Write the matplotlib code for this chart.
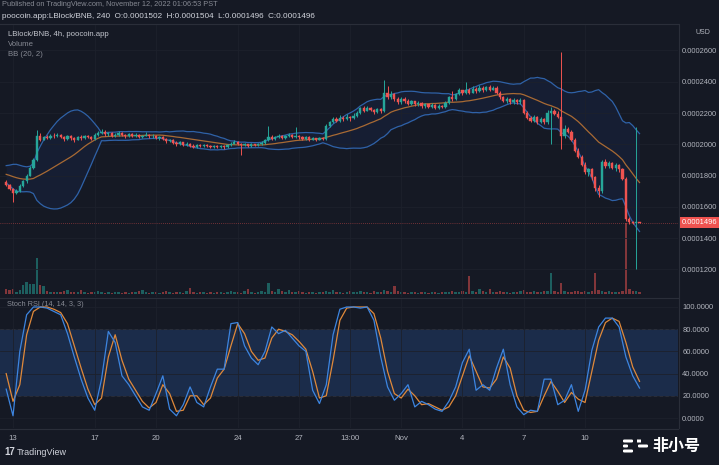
import numpy as np
import pandas as pd
import matplotlib
matplotlib.use('Agg')
import matplotlib.pyplot as plt
from matplotlib.patches import FancyBboxPatch

# ── Data (prices in units of 0.0000001 BNB) ───────────────────────────────────
UNIT = 1e-7

opens = [1760, 1740, 1715, 1690, 1700, 1735, 1765, 1800, 1850, 1900,
         2050, 2030, 2045, 2040, 2055, 2050, 2060, 2045, 2035, 2050,
         2040, 2030, 2045, 2040, 2050, 2045, 2035, 2060, 2070, 2080,
         2065, 2070, 2055, 2060, 2075, 2060, 2050, 2065, 2055, 2060,
         2045, 2055, 2062, 2050, 2055, 2040, 2048, 2035, 2020, 2028,
         2010, 2000, 2012, 1998, 2005, 1992, 1985, 1995, 1988, 1998,
         1990, 1982, 1992, 1985, 1990, 1982, 1995, 2005, 2015, 2005,
         1995, 2002, 1992, 2000, 1995, 2000, 2010, 2025, 2045, 2035,
         2045, 2055, 2040, 2050, 2060, 2048, 2055, 2045, 2035, 2045,
         2030, 2038, 2030, 2040, 2035, 2120, 2140, 2160, 2150, 2170,
         2160, 2175, 2165, 2180, 2200, 2230, 2215, 2235, 2220, 2205,
         2225, 2210, 2330, 2300, 2320, 2290, 2270, 2290, 2280, 2260,
         2275, 2255, 2265, 2245, 2255, 2240, 2250, 2235, 2245, 2240,
         2265, 2300, 2290, 2320, 2345, 2325, 2350, 2330, 2355, 2340,
         2360, 2345, 2365, 2350, 2360, 2330, 2300, 2280, 2290, 2270,
         2285, 2270, 2285, 2200, 2170, 2150, 2175, 2140, 2160, 2140,
         2200, 2215, 2195, 2175, 2050, 2100, 2080, 2030, 1960, 1920,
         1870, 1820, 1840, 1790, 1720, 1700, 1890, 1860, 1880, 1850,
         1870, 1840, 1780, 1520, 1505, 1498, 1502]
highs = [1770, 1748, 1720, 1712, 1745, 1775, 1810, 1860, 1915, 2090,
         2070, 2055, 2060, 2065, 2070, 2072, 2068, 2055, 2060, 2062,
         2048, 2055, 2058, 2062, 2060, 2052, 2070, 2085, 2095, 2090,
         2080, 2078, 2072, 2085, 2080, 2068, 2075, 2072, 2070, 2065,
         2062, 2080, 2068, 2065, 2060, 2055, 2052, 2040, 2035, 2032,
         2018, 2020, 2015, 2012, 2010, 2000, 2002, 2000, 2005, 2002,
         1995, 1998, 1998, 1996, 1995, 2000, 2012, 2025, 2020, 2010,
         2008, 2005, 2006, 2005, 2008, 2018, 2035, 2120, 2060, 2055,
         2065, 2060, 2058, 2070, 2065, 2110, 2060, 2052, 2050, 2050,
         2045, 2042, 2048, 2045, 2130, 2150, 2172, 2175, 2190, 2180,
         2195, 2180, 2200, 2210, 2240, 2245, 2245, 2240, 2228, 2235,
         2230, 2410, 2370, 2340, 2330, 2300, 2300, 2305, 2290, 2285,
         2280, 2275, 2270, 2265, 2260, 2262, 2255, 2255, 2252, 2275,
         2310, 2340, 2330, 2360, 2350, 2400, 2360, 2370, 2365, 2380,
         2370, 2375, 2380, 2372, 2370, 2340, 2310, 2300, 2295, 2295,
         2290, 2295, 2290, 2210, 2180, 2185, 2180, 2175, 2165, 2220,
         2240, 2225, 2210, 2590, 2125, 2110, 2090, 2040, 1975, 1930,
         1885, 1850, 1850, 1800, 1740, 1900, 1905, 1895, 1890, 1880,
         1875, 1850, 1790, 1535, 1510, 2110, 1504]
lows = [1735, 1705, 1630, 1680, 1695, 1730, 1755, 1795, 1840, 1895,
        2020, 2025, 2035, 2035, 2040, 2045, 2038, 2020, 2030, 2025,
        2015, 2025, 2030, 2035, 2038, 2028, 2030, 2055, 2065, 2055,
        2055, 2045, 2048, 2050, 2050, 2040, 2045, 2045, 2048, 2038,
        2040, 2050, 2042, 2040, 2032, 2030, 2025, 2010, 2012, 2000,
        1990, 1995, 1988, 1990, 1985, 1975, 1978, 1980, 1982, 1982,
        1975, 1976, 1978, 1978, 1970, 1975, 1990, 2000, 1998, 1930,
        1990, 1985, 1985, 1988, 1990, 1995, 2005, 2020, 2028, 2030,
        2038, 2032, 2035, 2045, 2040, 2042, 2035, 2025, 2028, 2022,
        2025, 2020, 2025, 2028, 2030, 2110, 2135, 2140, 2145, 2150,
        2155, 2150, 2160, 2175, 2195, 2205, 2210, 2210, 2195, 2200,
        2198, 2205, 2290, 2290, 2280, 2260, 2260, 2265, 2250, 2250,
        2245, 2245, 2235, 2235, 2230, 2230, 2225, 2228, 2230, 2235,
        2260, 2280, 2285, 2315, 2315, 2320, 2320, 2325, 2330, 2335,
        2335, 2340, 2340, 2345, 2320, 2290, 2270, 2265, 2260, 2260,
        2255, 2260, 2195, 2160, 2140, 2145, 2130, 2135, 2130, 2130,
        2000, 2185, 2165, 1970, 2040, 2070, 2020, 1950, 1910, 1860,
        1810, 1800, 1775, 1700, 1660, 1690, 1850, 1850, 1840, 1830,
        1820, 1770, 1510, 1490, 1490, 1200, 1496]
closes = [1740, 1715, 1690, 1700, 1735, 1765, 1800, 1850, 1900, 2050,
          2030, 2045, 2040, 2055, 2050, 2060, 2045, 2035, 2050, 2040,
          2030, 2045, 2040, 2050, 2045, 2035, 2060, 2070, 2080, 2065,
          2070, 2055, 2060, 2075, 2060, 2050, 2065, 2055, 2060, 2045,
          2055, 2062, 2050, 2055, 2040, 2048, 2035, 2020, 2028, 2010,
          2000, 2012, 1998, 2005, 1992, 1985, 1995, 1988, 1998, 1990,
          1982, 1992, 1985, 1990, 1982, 1995, 2005, 2015, 2005, 1995,
          2002, 1992, 2000, 1995, 2000, 2010, 2025, 2045, 2035, 2045,
          2055, 2040, 2050, 2060, 2048, 2055, 2045, 2035, 2045, 2030,
          2038, 2030, 2040, 2035, 2120, 2140, 2160, 2150, 2170, 2160,
          2175, 2165, 2180, 2200, 2230, 2215, 2235, 2220, 2205, 2225,
          2210, 2330, 2300, 2320, 2290, 2270, 2290, 2280, 2260, 2275,
          2255, 2265, 2245, 2255, 2240, 2250, 2235, 2245, 2240, 2265,
          2300, 2290, 2320, 2345, 2325, 2350, 2330, 2355, 2340, 2360,
          2345, 2365, 2350, 2360, 2330, 2300, 2280, 2290, 2270, 2285,
          2270, 2285, 2200, 2170, 2150, 2175, 2140, 2160, 2140, 2200,
          2215, 2195, 2175, 2050, 2100, 2080, 2030, 1960, 1920, 1870,
          1820, 1840, 1790, 1720, 1700, 1890, 1860, 1880, 1850, 1870,
          1840, 1780, 1520, 1505, 1498, 1502, 1496]
# closes before the first visible candle, only used to seed the BB(20)
pre_closes = [1850, 1845, 1838, 1842, 1830, 1825, 1832, 1820, 1812, 1818,
              1805, 1800, 1795, 1802, 1790, 1785, 1778, 1782, 1770]
volume = [5, 4, 5, 2, 4, 9, 12, 10, 10, 36,
          9, 8, 3, 2, 2, 2, 2, 3, 4, 2,
          2, 2, 4, 2, 1, 2, 2, 3, 2, 1,
          2, 1, 2, 2, 1, 2, 1, 2, 2, 3,
          4, 2, 1, 2, 2, 1, 2, 3, 2, 1,
          2, 2, 1, 3, 6, 2, 1, 2, 2, 1,
          2, 1, 2, 2, 1, 2, 3, 2, 2, 1,
          3, 5, 2, 1, 2, 3, 2, 11, 3, 2,
          5, 3, 2, 4, 2, 2, 3, 2, 1, 2,
          2, 1, 2, 2, 3, 2, 4, 2, 2, 1,
          2, 3, 2, 2, 3, 2, 2, 1, 3, 2,
          2, 4, 3, 2, 8, 3, 2, 2, 1, 2,
          2, 1, 2, 2, 1, 2, 2, 1, 2, 2,
          2, 3, 2, 2, 3, 2, 18, 3, 2, 5,
          3, 2, 5, 2, 2, 3, 2, 2, 1, 2,
          2, 3, 4, 2, 2, 3, 2, 2, 3, 3,
          21, 3, 2, 11, 3, 2, 2, 3, 3, 2,
          3, 2, 3, 21, 4, 3, 2, 3, 2, 2,
          2, 3, 71, 5, 3, 3, 2]

# Stoch RSI (14, 14, 3, 3), one reading every STOCH_STEP candles
STOCH_STEP = 2
stoch_k = [26, 2, 60, 93, 100, 100, 99, 96, 93, 76,
           55, 35, 18, 7, 35, 78, 68, 38, 30, 20,
           10, 7, 22, 38, 8, 2, 12, 28, 14, 10,
           28, 44, 44, 85, 86, 65, 54, 48, 60, 82,
           76, 79, 72, 65, 60, 25, 13, 30, 75, 98,
           100, 100, 99, 100, 88, 55, 28, 16, 22, 30,
           10, 15, 12, 8, 6, 15, 28, 50, 62, 25,
           30, 25, 45, 62, 30, 10, 3, 7, 6, 35,
           35, 12, 16, 30, 6, 25, 61, 82, 90, 90,
           82, 55, 38, 27]
stoch_d = [40, 15, 30, 75, 96, 100, 100, 98, 95, 85,
           65, 45, 26, 12, 18, 55, 75, 52, 35, 25,
           15, 9, 14, 30, 22, 6, 7, 20, 20, 12,
           18, 36, 44, 65, 85, 76, 60, 52, 54, 72,
           80, 78, 75, 69, 62, 42, 18, 20, 52, 88,
           99, 100, 100, 100, 94, 72, 42, 22, 18, 26,
           20, 12, 13, 10, 7, 10, 20, 38, 56, 42,
           28, 27, 35, 55, 45, 20, 7, 5, 6, 20,
           33, 24, 14, 23, 17, 14, 42, 70, 86, 90,
           87, 68, 46, 33]

last_price = 0.0001496
price_ticks = [0.00012, 0.00014, 0.00016, 0.00018, 0.00020, 0.00022, 0.00024, 0.00026]
stoch_ticks = [0, 20, 40, 60, 80, 100]
# candle index of each date label (candles are 4h)
date_pos = [2, 26, 44, 68, 86, 101, 116, 134, 152, 170]
date_labels = ['13', '17', '20', '24', '27', '13:00', 'Nov', '4', '7', '10']

# ── Style ─────────────────────────────────────────────────────────────────────
PALETTE = {
    'bg':     '#151924',
    'grid':   '#1d212c',
    'sep':    '#2a2e39',
    'text':   '#b2b5be',
    'dim':    '#868993',
    'up':     '#26a69a',
    'down':   '#ef5350',
    'bb':     '#2f62a8',
    'basis':  '#a86a34',
    'k':      '#3d85e0',
    'd':      '#e0893a',
    'band':   '#1b2c4a',
}
plt.rcParams['font.family'] = ['Liberation Sans', 'DejaVu Sans']
TS = 5.4   # small UI text size

W, H = 719, 465


def box(x0, y0, x1, y1):
    return [x0 / W, 1 - y1 / H, (x1 - x0) / W, (y1 - y0) / H]


def fx(x):
    return x / W


def fy(y):
    return 1 - y / H


fig = plt.figure(figsize=(W / 100, H / 100), dpi=100)
fig.patch.set_facecolor(PALETTE['bg'])

axv = fig.add_axes(box(0, 180, 678, 294))
ax = fig.add_axes(box(0, 24, 678, 297), sharex=axv)
axs = fig.add_axes(box(0, 298, 678, 428), sharex=axv)

n = len(closes)
x = np.arange(n)
o = np.array(opens) * UNIT
h = np.array(highs) * UNIT
l = np.array(lows) * UNIT
c = np.array(closes) * UNIT
up = c >= o
colors = np.where(up, PALETTE['up'], PALETTE['down'])

# ── Volume ────────────────────────────────────────────────────────────────────
axv.bar(x, volume, width=0.7, color=colors, alpha=0.5, edgecolor='none')
axv.set_ylim(0, 114)
axv.set_facecolor('none')
axv.axis('off')

# ── Bollinger bands ───────────────────────────────────────────────────────────
all_c = pd.Series(pre_closes + closes, dtype=float) * UNIT
basis = all_c.rolling(20).mean().to_numpy()[-n:]
dev = all_c.rolling(20).std(ddof=0).to_numpy()[-n:]
upper = basis + 2 * dev
lower = basis - 2 * dev

ax.set_facecolor('none')
ax.fill_between(x, lower, upper, color='#2962ff', alpha=0.07, lw=0, zorder=1)
ax.plot(x, upper, color=PALETTE['bb'], lw=0.9, zorder=2)
ax.plot(x, lower, color=PALETTE['bb'], lw=0.9, zorder=2)
ax.plot(x, basis, color=PALETTE['basis'], lw=0.9, zorder=2)

# ── Candles ───────────────────────────────────────────────────────────────────
ax.vlines(x, l, h, colors=colors, lw=0.7, zorder=3)
body_lo = np.minimum(o, c)
body_h = np.maximum(np.abs(c - o), 0.4 * UNIT)
ax.bar(x, body_h, bottom=body_lo, width=0.66, color=colors,
       edgecolor=colors, linewidth=0.3, zorder=4)

ax.axhline(last_price, color=PALETTE['down'], lw=0.5, ls=(0, (1, 2)), alpha=0.8, zorder=2)

ax.set_ylim(1.024e-4, 2.769e-4)
ax.set_xlim(-1.82, 197.3)
ax.set_yticks(price_ticks)
ax.yaxis.tick_right()
ax.set_yticklabels([f'{v:.7f}' for v in price_ticks])
ax.tick_params(axis='y', length=0, pad=3, labelsize=TS, labelcolor=PALETTE['text'])
ax.tick_params(axis='x', length=0, labelbottom=False)
ax.set_xticks(date_pos)
ax.grid(True, color=PALETTE['grid'], lw=0.6, zorder=0)
for s in ax.spines.values():
    s.set_visible(False)

# ── Stoch RSI ─────────────────────────────────────────────────────────────────
xs = np.arange(len(stoch_k)) * STOCH_STEP
axs.set_facecolor('none')
axs.axhspan(20, 80, color=PALETTE['band'], lw=0, zorder=0)
axs.axhline(80, color='#787b86', lw=0.6, ls=(0, (4, 3)), zorder=1)
axs.axhline(20, color='#787b86', lw=0.6, ls=(0, (4, 3)), zorder=1)
axs.plot(xs, stoch_d, color=PALETTE['d'], lw=0.9, zorder=3)
axs.plot(xs, stoch_k, color=PALETTE['k'], lw=0.9, zorder=4)
axs.set_ylim(-9, 108.1)
axs.set_yticks(stoch_ticks)
axs.yaxis.tick_right()
axs.set_yticklabels([f'{v:.4f}' for v in stoch_ticks])
axs.tick_params(axis='y', length=0, pad=3, labelsize=TS, labelcolor=PALETTE['text'])
axs.set_xticks(date_pos)
axs.set_xticklabels(date_labels)
axs.tick_params(axis='x', length=0, pad=5, labelsize=5.6, labelcolor=PALETTE['text'])
axs.grid(True, color=PALETTE['grid'], lw=0.6, zorder=0)
for s in axs.spines.values():
    s.set_visible(False)

# ── Separators ────────────────────────────────────────────────────────────────
for yy in (24, 297.5, 428.5):
    fig.add_artist(plt.Line2D([0, fx(678)], [fy(yy), fy(yy)], color=PALETTE['sep'], lw=0.8))
fig.add_artist(plt.Line2D([fx(678.5), fx(678.5)], [fy(24), fy(428)], color=PALETTE['sep'], lw=0.8))

# ── Texts ─────────────────────────────────────────────────────────────────────
fig.text(fx(2), fy(5), 'Published on TradingView.com, November 12, 2022 01:06:53 PST',
         fontsize=5.3, color=PALETTE['dim'], va='center')
fig.text(fx(2), fy(16), 'poocoin.app:LBlock/BNB, 240  O:0.0001502  H:0.0001504  L:0.0001496  C:0.0001496',
         fontsize=5.9, color='#d1d4dc', va='center')
fig.text(fx(8), fy(34), 'LBlock/BNB, 4h, poocoin.app', fontsize=5.6, color='#c3c6ce', va='center')
fig.text(fx(8), fy(44.5), 'Volume', fontsize=5.6, color=PALETTE['dim'], va='center')
fig.text(fx(8), fy(55), 'BB (20, 2)', fontsize=5.6, color=PALETTE['dim'], va='center')
fig.text(fx(7), fy(304), 'Stoch RSI (14, 14, 3, 3)', fontsize=5.3, color=PALETTE['dim'], va='center')
fig.text(fx(703), fy(33), 'USD', fontsize=5, color=PALETTE['text'], va='center', ha='center')

fig.text(fx(682), fy(222.5), f'{last_price:.7f}', fontsize=TS, color='white', va='center',
         bbox=dict(boxstyle='square,pad=0.3', fc=PALETTE['down'], ec='none'))

fig.text(fx(4), fy(452), '17', fontsize=7, fontweight='bold', color='#d1d4dc', va='center')
fig.text(fx(17), fy(452), 'TradingView', fontsize=6.5, color='#d1d4dc', va='center')

# watermark
for (x0, x1, yy) in [(623, 633, 441), (623, 628, 446), (638, 648, 446), (623, 633, 451)]:
    fig.add_artist(FancyBboxPatch((fx(x0), fy(yy + 1.5)), fx(x1 - x0), 3 / H,
                                  boxstyle='round,pad=0,rounding_size=0.002',
                                  transform=fig.transFigure, fc='white', ec='none'))
fig.add_artist(FancyBboxPatch((fx(637), fy(442.5)), fx(4), 3 / H,
                              boxstyle='round,pad=0', transform=fig.transFigure,
                              fc='white', ec='none'))
fig.text(fx(652), fy(446), '非小号', fontsize=11.5, fontweight='bold', color='white',
         va='center', family=['Noto Sans CJK SC', 'DejaVu Sans'])

fig.savefig('out.png', dpi=100, facecolor=PALETTE['bg'])
